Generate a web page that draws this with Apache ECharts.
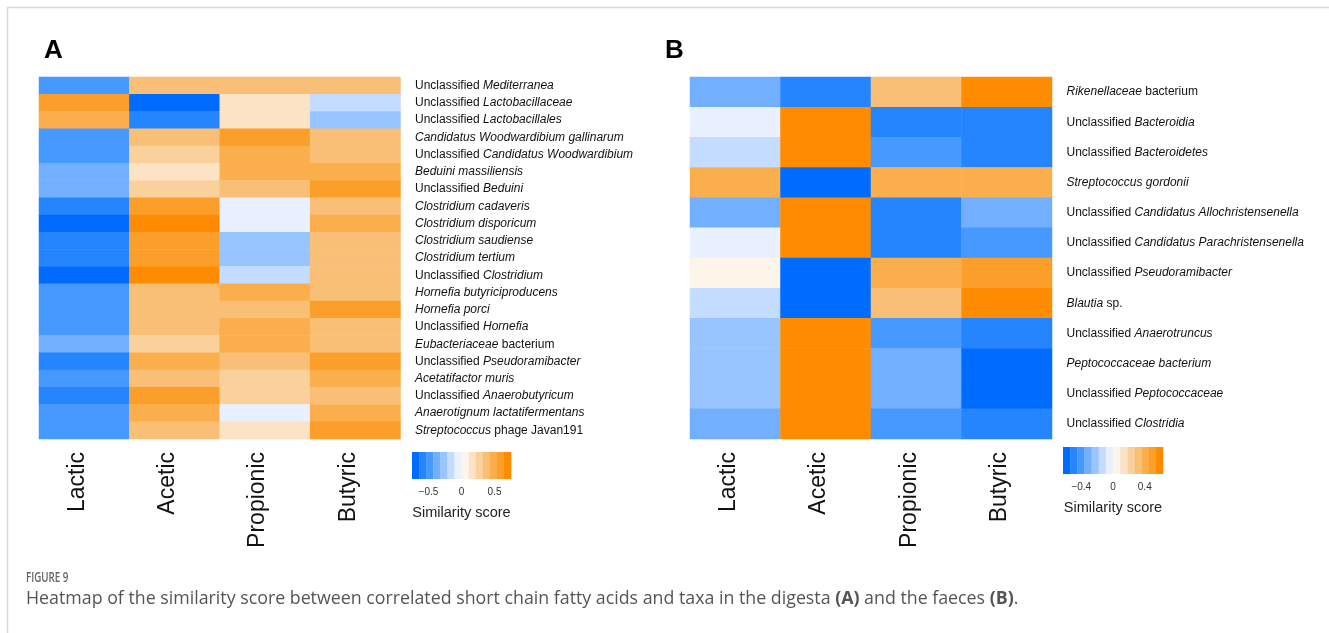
<!DOCTYPE html>
<html>
<head>
<meta charset="utf-8">
<script src="https://cdn.jsdelivr.net/npm/echarts@6.0.0/dist/echarts.min.js"></script>
<style>
html,body{margin:0;padding:0;background:#fff;}
#chart{width:1329px;height:633px;}
</style>
</head>
<body>
<div id="chart"></div>
<script>
// ---- data ----
const acids = ["Lactic", "Acetic", "Propionic", "Butyric"];

// Panel A (digesta) taxa; *...* marks italic text
const taxaA = [
  "Unclassified *Mediterranea*",
  "Unclassified *Lactobacillaceae*",
  "Unclassified *Lactobacillales*",
  "*Candidatus Woodwardibium gallinarum*",
  "Unclassified *Candidatus Woodwardibium*",
  "*Beduini massiliensis*",
  "Unclassified *Beduini*",
  "*Clostridium cadaveris*",
  "*Clostridium disporicum*",
  "*Clostridium saudiense*",
  "*Clostridium tertium*",
  "Unclassified *Clostridium*",
  "*Hornefia butyriciproducens*",
  "*Hornefia porci*",
  "Unclassified *Hornefia*",
  "*Eubacteriaceae* bacterium",
  "Unclassified *Pseudoramibacter*",
  "*Acetatifactor muris*",
  "Unclassified *Anaerobutyricum*",
  "*Anaerotignum lactatifermentans*",
  "*Streptococcus* phage Javan191"
];
const lacticA    = [-0.48, 0.59, 0.48,-0.48,-0.48,-0.38,-0.38,-0.59,-0.70,-0.59,-0.59,-0.70,-0.48,-0.48,-0.48,-0.38,-0.59,-0.48,-0.59,-0.48,-0.48];
const aceticA    = [ 0.38,-0.70,-0.59, 0.38, 0.27, 0.16, 0.27, 0.59, 0.70, 0.59, 0.59, 0.70, 0.38, 0.38, 0.38, 0.27, 0.48, 0.38, 0.59, 0.48, 0.38];
const propionicA = [ 0.38, 0.16, 0.16, 0.59, 0.48, 0.48, 0.38,-0.05,-0.05,-0.27,-0.27,-0.16, 0.48, 0.38, 0.48, 0.48, 0.38, 0.27, 0.27,-0.05, 0.16];
const butyricA   = [ 0.38,-0.16,-0.27, 0.38, 0.38, 0.48, 0.59, 0.38, 0.48, 0.38, 0.38, 0.38, 0.38, 0.59, 0.38, 0.38, 0.59, 0.48, 0.38, 0.48, 0.59];

// Panel B (faeces) taxa
const taxaB = [
  "*Rikenellaceae* bacterium",
  "Unclassified *Bacteroidia*",
  "Unclassified *Bacteroidetes*",
  "*Streptococcus gordonii*",
  "Unclassified *Candidatus Allochristensenella*",
  "Unclassified *Candidatus Parachristensenella*",
  "Unclassified *Pseudoramibacter*",
  "*Blautia* sp.",
  "Unclassified *Anaerotruncus*",
  "*Peptococcaceae bacterium*",
  "Unclassified *Peptococcaceae*",
  "Unclassified *Clostridia*"
];
const lacticB    = [-0.32,-0.05,-0.14, 0.41,-0.32,-0.05, 0.05,-0.14,-0.23,-0.23,-0.23,-0.32];
const aceticB    = [-0.50, 0.59, 0.59,-0.59, 0.59, 0.59,-0.59,-0.59, 0.59, 0.59, 0.59, 0.59];
const propionicB = [ 0.32,-0.50,-0.41, 0.41,-0.50,-0.50, 0.41, 0.32,-0.41,-0.32,-0.32,-0.41];
const butyricB   = [ 0.59,-0.50,-0.50, 0.41,-0.32,-0.41, 0.50, 0.59,-0.50,-0.59,-0.59,-0.50];

// colour scale (ranges and tick labels)
const palette = ['#006BFF','#2485FF','#4699FF','#72AFFF','#98C5FF','#C3DCFF','#E9F0FF',
                 '#FDF4EA','#FCE3C6','#FAD19D','#F9BF76','#FBAF4C','#FC9F2A','#FF8C00'];
const rangeA = [-0.75, 0.75];
const rangeB = [-0.63, 0.63];
const ticksA = [-0.5, 0, 0.5];
const ticksB = [-0.4, 0, 0.4];

// ---- helpers ----
function cells(cols){
  const out = [];
  cols.forEach((col, x) => col.forEach((v, y) => out.push([x, y, v])));
  return out;
}
function pieces(range){
  const n = palette.length, w = (range[1]-range[0])/n, p = [];
  for (let k=0;k<n;k++){
    const piece = {color: palette[k]};
    if (k>0) piece.gte = range[0]+k*w;
    if (k<n-1) piece.lt = range[0]+(k+1)*w;
    p.push(piece);
  }
  return p;
}
function bands(range){
  const n = palette.length, w = (range[1]-range[0])/n, out = [];
  for (let k=0;k<n;k++) out.push([range[0]+k*w, range[0]+(k+1)*w, k]);
  return out;
}
function richLabel(v){
  return v.split('*').map((s,i)=> s ? (i%2 ? '{i|'+s+'}' : '{n|'+s+'}') : '').join('');
}
const FONT = '"Liberation Sans", Arial, Helvetica, sans-serif';
const labRich = {
  n:{fontFamily:FONT,fontSize:12,color:'#111'},
  i:{fontFamily:FONT,fontSize:12,color:'#111',fontStyle:'italic'}
};
function fmtTick(v){ return v<0 ? '\u2212'+Math.abs(v) : String(v); }

const gridA = {left:39, top:77, width:361.5, height:362};
const gridB = {left:690, top:77, width:362, height:362};
const barA  = {left:412, top:452, width:99, height:27};
const barB  = {left:1063, top:447, width:100, height:27};

function catX(grid){
  return {type:'category', data:acids, gridIndex:grid, position:'bottom',
    axisLine:{show:false}, axisTick:{show:false}, splitArea:{show:false},
    axisLabel:{rotate:90, margin:13, fontSize:23, fontFamily:FONT, color:'#111', interval:0,
               verticalAlign:'bottom', lineHeight:14}};
}
function catY(grid, taxa){
  return {type:'category', data:taxa, gridIndex:grid, position:'right', inverse:true,
    axisLine:{show:false}, axisTick:{show:false},
    axisLabel:{margin:14.5, interval:0, formatter:richLabel, rich:labRich, align:'left'}};
}
function valX(grid, range, ticks){
  return {type:'value', gridIndex:grid, min:range[0], max:range[1],
    axisLine:{show:false}, splitLine:{show:false},
    axisTick:{show:true, inside:true, length:3, customValues:ticks, lineStyle:{color:'rgba(255,255,255,0.85)'}},
    axisLabel:{customValues:ticks, formatter:fmtTick, fontSize:10, fontFamily:FONT, color:'#333', margin:8},
    name:'Similarity score', nameLocation:'middle', nameGap:26,
    nameTextStyle:{fontSize:14.5, fontFamily:FONT, color:'#222', verticalAlign:'top'}};
}
function valY(grid){
  return {type:'value', gridIndex:grid, min:0, max:1, show:false};
}
function renderBand(params, api){
  const p0 = api.coord([api.value(0), 1]);
  const p1 = api.coord([api.value(1), 0]);
  return {type:'rect', shape:{x:p0[0], y:p0[1], width:p1[0]-p0[0]+0.3, height:p1[1]-p0[1]},
          style:{fill: palette[api.value(2)]}};
}

const chart = echarts.init(document.getElementById('chart'), null, {renderer:'canvas'});
chart.setOption({
  backgroundColor:'#fff',
  animation:false,
  grid:[gridA, gridB, barA, barB],
  xAxis:[catX(0), catX(1), valX(2, rangeA, ticksA), valX(3, rangeB, ticksB)],
  yAxis:[catY(0, taxaA), catY(1, taxaB), valY(2), valY(3)],
  visualMap:[
    {type:'piecewise', show:false, seriesIndex:0, dimension:2, pieces:pieces(rangeA)},
    {type:'piecewise', show:false, seriesIndex:1, dimension:2, pieces:pieces(rangeB)}
  ],
  series:[
    {type:'heatmap', xAxisIndex:0, yAxisIndex:0, data:cells([lacticA, aceticA, propionicA, butyricA]),
     itemStyle:{borderWidth:0}, emphasis:{disabled:true}},
    {type:'heatmap', xAxisIndex:1, yAxisIndex:1, data:cells([lacticB, aceticB, propionicB, butyricB]),
     itemStyle:{borderWidth:0}, emphasis:{disabled:true}},
    {type:'custom', xAxisIndex:2, yAxisIndex:2, data:bands(rangeA), renderItem:renderBand, z:1},
    {type:'custom', xAxisIndex:3, yAxisIndex:3, data:bands(rangeB), renderItem:renderBand, z:1}
  ],
  graphic:[
    {type:'polyline', shape:{points:[[7.5,633],[7.5,7.5],[1329,7.5]]}, style:{stroke:'#d9d9d9', lineWidth:1.5, fill:null}, silent:true},
    {type:'text', left:44, top:38, style:{text:'A', font:'bold 26px '+FONT, fill:'#000'}},
    {type:'text', left:665, top:38, style:{text:'B', font:'bold 26px '+FONT, fill:'#000'}},
    {type:'text', x:26, y:570, scaleX:0.65, style:{text:'FIGURE 9', font:'600 15px "Open Sans", sans-serif', fill:'#666'}},
    {type:'text', left:26, top:590, style:{
      text:'{n|Heatmap of the similarity score between correlated short chain fatty acids and taxa in the digesta }{b|(A)}{n| and the faeces }{b|(B)}{n|.}',
      rich:{n:{font:'17.8px "Open Sans", sans-serif', fill:'#555'}, b:{font:'bold 17.8px "Open Sans", sans-serif', fill:'#555'}}}}
  ]
});
</script>
</body>
</html>
